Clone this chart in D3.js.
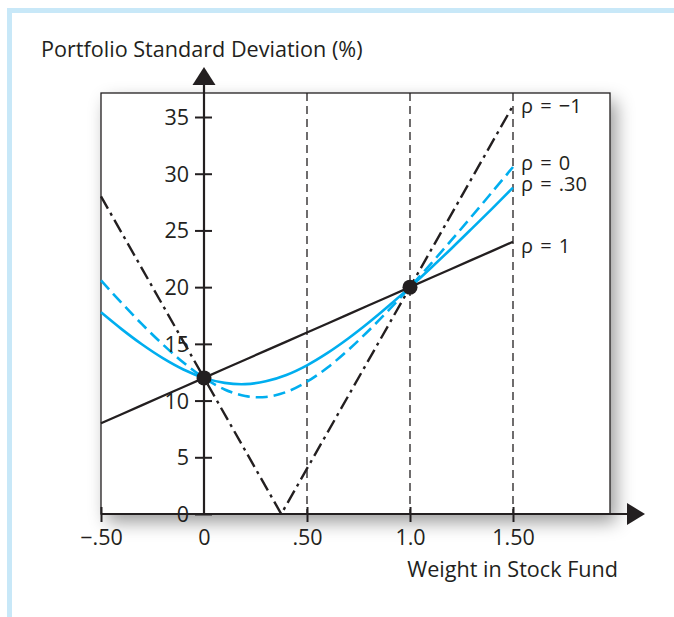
<!DOCTYPE html>
<html>
<head>
<meta charset="utf-8">
<script src="https://cdn.jsdelivr.net/npm/d3@7"></script>
<style>
  html, body { margin: 0; padding: 0; background: #fff; }
  svg { display: block; }
  text { font-family: "Open Sans", "Noto Sans", sans-serif; fill: #231f20; }
</style>
</head>
<body>
<svg id="chart" width="674" height="617"></svg>
<script>
// ---- data ----
const weights = [-0.5,-0.4,-0.3,-0.2,-0.1,0,0.1,0.2,0.3,0.4,0.5,0.6,0.7,0.8,0.9,1.0,1.1,1.2,1.3,1.4,1.5];
const sdRho0   = [20.59,18.61,16.71,14.95,13.35,12,10.98,10.40,10.32,10.76,11.66,12.92,14.46,16.18,18.04,20,22.03,24.12,26.25,28.41,30.59];
const sdRho030 = [17.78,16.30,14.94,13.74,12.74,12,11.56,11.45,11.70,12.26,13.11,14.20,15.47,16.88,18.40,20,21.67,23.39,25.16,26.95,28.77];
const sdRho1   = [8,8.8,9.6,10.4,11.2,12,12.8,13.6,14.4,15.2,16,16.8,17.6,18.4,19.2,20,20.8,21.6,22.4,23.2,24];
const rhoNeg1W  = [-0.5, 0.375, 1.5];
const rhoNeg1SD = [28, 0, 36];
const assetW  = [0, 1];
const assetSD = [12, 20];
const xTickValues = [-0.5, 0, 0.5, 1.0, 1.5];
const xTickLabels = ["\u2212.50", "0", ".50", "1.0", "1.50"];
const yTickValues = [0, 5, 10, 15, 20, 25, 30, 35];
const guideW = [0.5, 1.0, 1.5];
const seriesLabels = ["\u03c1 = \u22121", "\u03c1 = 0", "\u03c1 = .30", "\u03c1 = 1"];
const yTitle = "Portfolio Standard Deviation (%)";
const xTitle = "Weight in Stock Fund";

// ---- layout ----
const svg = d3.select("#chart");
const ink = "#231f20";
const blue = "#00aeef";
const boxL = 101, boxR = 610, boxT = 93, boxB = 514;
const tickFont = "21.5px";

const x = d3.scaleLinear().domain([-0.5, 1.5]).range([101, 513]);
const y = d3.scaleLinear().domain([0, 35]).range([514, 117]);

// page frame (light blue)
svg.append("rect").attr("x", 7).attr("y", 8).attr("width", 674 - 7).attr("height", 5).attr("fill", "#c8e8f8");
svg.append("rect").attr("x", 7).attr("y", 8).attr("width", 5).attr("height", 617 - 8).attr("fill", "#c8e8f8");

// shadow filter
const defs = svg.append("defs");
const f = defs.append("filter").attr("id", "shadow").attr("x", "-20%").attr("y", "-20%").attr("width", "140%").attr("height", "140%");
f.append("feDropShadow").attr("dx", 6).attr("dy", 8).attr("stdDeviation", 9)
  .attr("flood-color", "#000").attr("flood-opacity", 0.4);

svg.append("rect").attr("x", boxL).attr("y", boxT).attr("width", boxR - boxL).attr("height", boxB - boxT)
  .attr("fill", "#fff").attr("filter", "url(#shadow)");
svg.append("rect").attr("x", boxL).attr("y", boxT).attr("width", boxR - boxL).attr("height", boxB - boxT)
  .attr("fill", "none").attr("stroke", ink).attr("stroke-width", 1.3);

// vertical guide lines
svg.append("g").selectAll("line").data(guideW).join("line")
  .attr("x1", d => x(d)).attr("x2", d => x(d))
  .attr("y1", boxT).attr("y2", boxB)
  .attr("stroke", ink).attr("stroke-width", 1.3).attr("stroke-dasharray", "8,5");

// curves
const line = d3.line().x(d => x(d[0])).y(d => y(d[1]));
const smooth = d3.line().x(d => x(d[0])).y(d => y(d[1])).curve(d3.curveCatmullRom.alpha(0.5));

svg.append("path").datum(rhoNeg1W.map((w, i) => [w, rhoNeg1SD[i]]))
  .attr("d", line).attr("fill", "none").attr("stroke", ink).attr("stroke-width", 2.4)
  .attr("stroke-dasharray", "14,5,3,5");
svg.append("path").datum(weights.map((w, i) => [w, sdRho0[i]]))
  .attr("d", smooth).attr("fill", "none").attr("stroke", blue).attr("stroke-width", 2.6)
  .attr("stroke-dasharray", "12,6");
svg.append("path").datum(weights.map((w, i) => [w, sdRho030[i]]))
  .attr("d", smooth).attr("fill", "none").attr("stroke", blue).attr("stroke-width", 2.6);
svg.append("path").datum(weights.map((w, i) => [w, sdRho1[i]]))
  .attr("d", line).attr("fill", "none").attr("stroke", ink).attr("stroke-width", 2.3);

// y axis
const yAxis = svg.append("g").attr("transform", `translate(${x(0)},0)`)
  .call(d3.axisLeft(y).tickValues(yTickValues).tickFormat(d3.format("d")).tickSizeOuter(0));
yAxis.select(".domain").remove();
yAxis.selectAll(".tick line").attr("x1", -9).attr("x2", 8).attr("stroke", ink).attr("stroke-width", 2);
yAxis.selectAll(".tick text").attr("x", -15).attr("dy", "0.35em")
  .style("font-size", tickFont).style("font-family", '"Open Sans", sans-serif').attr("fill", ink);
svg.append("line").attr("x1", x(0)).attr("x2", x(0)).attr("y1", boxB).attr("y2", 84)
  .attr("stroke", ink).attr("stroke-width", 2.2);
svg.append("path").attr("d", `M${x(0)},67 L${x(0) - 11.5},85 L${x(0) + 11.5},85 Z`).attr("fill", ink);

// x axis
const xAxis = svg.append("g").attr("transform", `translate(0,${y(0)})`)
  .call(d3.axisBottom(x).tickValues(xTickValues).tickFormat((d, i) => xTickLabels[i]).tickSizeOuter(0));
xAxis.select(".domain").remove();
xAxis.selectAll(".tick line").attr("y1", d => d === 0 ? 0 : -7).attr("y2", d => d === 0 ? 0 : 8)
  .attr("stroke", ink).attr("stroke-width", 2);
xAxis.selectAll(".tick text").attr("y", 31).attr("dy", 0)
  .style("font-size", tickFont).style("font-family", '"Open Sans", sans-serif').attr("fill", ink);
svg.append("line").attr("x1", boxL).attr("x2", 628).attr("y1", y(0)).attr("y2", y(0))
  .attr("stroke", ink).attr("stroke-width", 2.2);
svg.append("path").attr("d", `M645,${y(0)} L627,${y(0) - 11} L627,${y(0) + 11} Z`).attr("fill", ink);

// asset points
svg.append("g").selectAll("circle").data(assetW.map((w, i) => [w, assetSD[i]])).join("circle")
  .attr("cx", d => x(d[0])).attr("cy", d => y(d[1])).attr("r", 7.5).attr("fill", ink);

// series labels
svg.append("g").selectAll("text").data(seriesLabels).join("text")
  .attr("x", x(1.5) + 8)
  .attr("y", (d, i) => [113, 170, 191, 253][i])
  .style("font-size", "20px")
  .style("word-spacing", "2px")
  .text(d => d);

// titles
svg.append("text").attr("x", 41).attr("y", 57).style("font-size", "21.6px").text(yTitle);
svg.append("text").attr("x", 618).attr("y", 577).attr("text-anchor", "end").style("font-size", "21.6px").text(xTitle);
</script>
</body>
</html>
